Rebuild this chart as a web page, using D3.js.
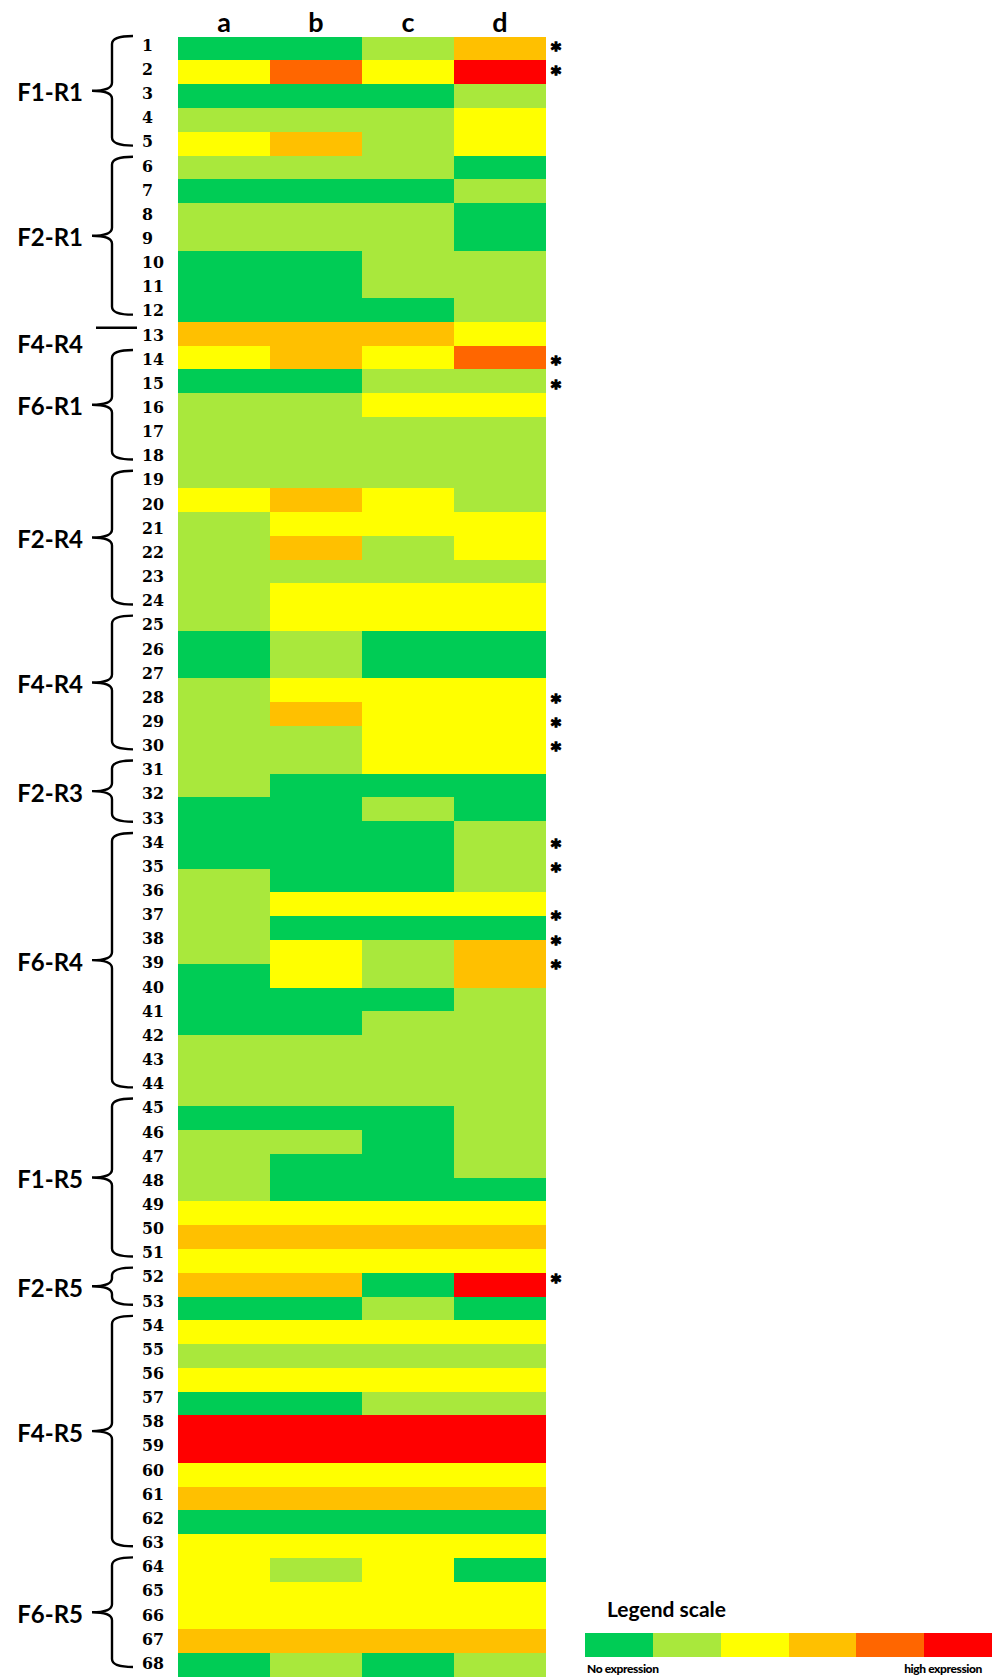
<!DOCTYPE html>
<html>
<head>
<meta charset="utf-8">
<script src="https://d3js.org/d3.v7.min.js"></script>
<style>
  body { margin: 0; background: #fff; }
</style>
</head>
<body>

<svg width="997" height="1679"></svg>

<script>

// samples (columns of the heat map)
var columns = ["a", "b", "c", "d"];

// expression level per cell row, 0 = no expression ... 5 = high expression
var levelsA = [0,2,0,1,2,1,0,1,1,0, 0,0,3,2,0,1,1,1,1,2, 1,1,1,1,1,0,0,1,1,1, 1,1,0,0,0,1,1,1,1,0, 0,0,1,1,1,0,1,1,1,2, 3,2,3,0,2,1,2,0,5,5, 2,3,0,2,2,2,2,3,0];
var levelsB = [0,4,0,1,3,1,0,1,1,0, 0,0,3,3,0,1,1,1,1,3, 2,3,1,2,2,1,1,2,3,1, 1,0,0,0,0,0,2,0,2,2, 0,0,1,1,1,0,1,0,0,2, 3,2,3,0,2,1,2,0,5,5, 2,3,0,2,1,2,2,3,1];
var levelsC = [1,2,0,1,1,1,0,1,1,1, 1,0,3,2,1,2,1,1,1,2, 2,1,1,2,2,0,0,2,2,2, 2,0,1,0,0,0,2,0,1,1, 0,1,1,1,1,0,0,0,0,2, 3,2,0,1,2,1,2,1,5,5, 2,3,0,2,2,2,2,3,0];
var levelsD = [3,5,1,2,2,0,1,0,0,1, 1,1,2,4,1,2,1,1,1,1, 2,2,1,2,2,0,0,2,2,2, 2,0,0,1,1,1,2,0,3,3, 1,1,1,1,1,1,1,1,0,2, 3,2,5,0,2,1,2,1,5,5, 2,3,0,2,0,2,2,3,1];

// row numbers down the left side
var rowLabels = d3.range(1, 69);

// bracket groups (first and last row number)
var groupNames = ["F1-R1", "F2-R1", "F4-R4", "F6-R1", "F2-R4", "F4-R4", "F2-R3", "F6-R4", "F1-R5", "F2-R5", "F4-R5", "F6-R5"];
var groupFirst = [1, 6, 13, 14, 19, 25, 31, 34, 45, 52, 54, 64];
var groupLast  = [5, 12, 13, 18, 24, 30, 33, 44, 51, 53, 63, 68];

// rows marked with an asterisk
var starRows = [1, 2, 14, 15, 28, 29, 30, 34, 35, 37, 38, 39, 52, 69];

// legend
var levelColors = ["#00cc55", "#a9e83c", "#ffff00", "#ffc000", "#ff6600", "#ff0000"];
var legendTitle = "Legend scale";
var legendLow = "No expression";
var legendHigh = "high expression";

var svg = d3.select("svg");

var table = [];
[levelsA, levelsB, levelsC, levelsD].forEach(function(col, j) {
  col.forEach(function(v, i) {
    table.push({ col: columns[j], row: i, level: v });
  });
});

var x = d3.scaleBand()
    .domain(columns)
    .range([178, 546]);

var y = d3.scaleBand()
    .domain(d3.range(levelsA.length))
    .range([36.7, 36.7 + 23.77 * levelsA.length]);

var yLab = d3.scaleLinear()
    .domain([1, 68])
    .range([45, 1663]);

var color = d3.scaleOrdinal()
    .domain(d3.range(levelColors.length))
    .range(levelColors);

// cells
svg.append("g")
  .selectAll("rect")
  .data(table)
  .enter().append("rect")
    .attr("x", function(d) { return x(d.col); })
    .attr("y", function(d) { return y(d.row); })
    .attr("width", x.bandwidth())
    .attr("height", y.bandwidth())
    .attr("shape-rendering", "crispEdges")
    .style("fill", function(d) { return color(d.level); });

// column headers
svg.append("g")
  .selectAll("text")
  .data(columns)
  .enter().append("text")
    .attr("x", function(d) { return x(d) + x.bandwidth() / 2; })
    .attr("y", 32)
    .attr("text-anchor", "middle")
    .style("font", "700 27px Lato, sans-serif")
    .text(function(d) { return d; });

// row numbers
svg.append("g")
  .selectAll("text")
  .data(rowLabels)
  .enter().append("text")
    .attr("x", 142)
    .attr("y", function(d) { return yLab(d) + 5.8; })
    .style("font", "700 15.8px 'DejaVu Serif', serif")
    .text(function(d) { return d; });

// asterisks
svg.append("g")
  .selectAll("text")
  .data(starRows)
  .enter().append("text")
    .attr("x", 556)
    .attr("y", function(d) { return yLab(d) + 11; })
    .attr("text-anchor", "middle")
    .style("font", "700 19px 'DejaVu Sans', sans-serif")
    .style("stroke", "#000")
    .style("stroke-width", 1.3)
    .text("*");

// brackets and group names
var groups = groupNames.map(function(n, i) {
  return { name: n, first: groupFirst[i], last: groupLast[i] };
});

var xEnd = 133, xV = 112, xTip = 92, r = 8;

var g = svg.append("g")
  .selectAll("g")
  .data(groups)
  .enter().append("g");

g.append("path")
    .attr("fill", "none")
    .attr("stroke", "#000")
    .attr("stroke-width", 2.4)
    .attr("d", function(d) {
      if (d.first == d.last) {
        var yl = yLab(d.first) - 7;
        return "M" + (xTip + 4) + "," + yl + "L" + (xEnd + 4) + "," + yl;
      }
      var y0 = yLab(d.first) - 9, y1 = yLab(d.last) + 4, ym = (y0 + y1) / 2;
      var p = d3.path();
      p.moveTo(xEnd, y0);
      p.quadraticCurveTo(xV, y0, xV, y0 + r);
      p.lineTo(xV, ym - r);
      p.quadraticCurveTo(xV, ym, xTip, ym);
      p.quadraticCurveTo(xV, ym, xV, ym + r);
      p.lineTo(xV, y1 - r);
      p.quadraticCurveTo(xV, y1, xEnd, y1);
      return p.toString();
    });

g.append("text")
    .attr("x", 83)
    .attr("y", function(d) {
      if (d.first == d.last) return yLab(d.first) + 10 + 8.6;
      var y0 = yLab(d.first) - 9, y1 = yLab(d.last) + 4;
      return (y0 + y1) / 2 + 2 + 8.6;
    })
    .attr("text-anchor", "end")
    .style("font", "700 24px Lato, sans-serif")
    .text(function(d) { return d.name; });

// legend
var lx = d3.scaleBand()
    .domain(d3.range(levelColors.length))
    .range([585, 992]);

var legend = svg.append("g");

legend.append("text")
    .attr("x", 607)
    .attr("y", 1617)
    .style("font", "700 21px Lato, sans-serif")
    .text(legendTitle);

legend.selectAll("rect")
  .data(levelColors)
  .enter().append("rect")
    .attr("x", function(d, i) { return lx(i); })
    .attr("y", 1633)
    .attr("width", lx.bandwidth())
    .attr("height", 24)
    .attr("shape-rendering", "crispEdges")
    .style("fill", function(d) { return d; });

legend.append("text")
    .attr("x", 587)
    .attr("y", 1673)
    .style("font", "900 12px Lato, sans-serif")
    .style("letter-spacing", "-0.4px")
    .text(legendLow);

legend.append("text")
    .attr("x", 982)
    .attr("y", 1673)
    .attr("text-anchor", "end")
    .style("font", "900 12px Lato, sans-serif")
    .style("letter-spacing", "-0.4px")
    .text(legendHigh);

</script>

</body>
</html>
